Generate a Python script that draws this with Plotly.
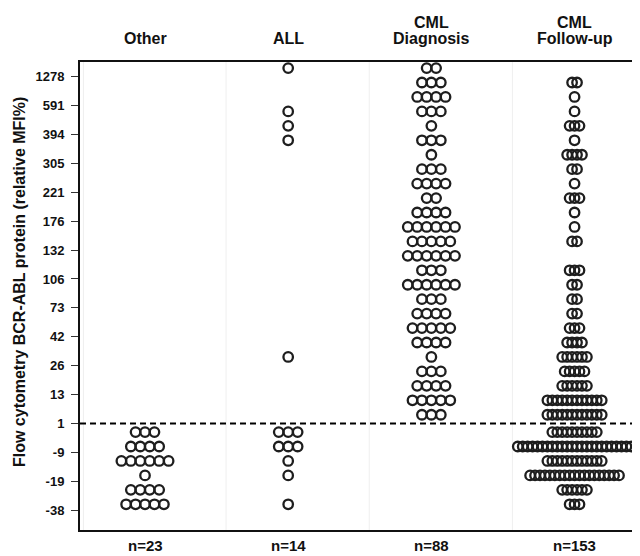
import plotly.graph_objects as go

# ---------------- data ----------------
header_lines = [["Other"], ["ALL"], ["CML", "Diagnosis"], ["CML", "Follow-up"]]
n_labels = ["n=23", "n=14", "n=88", "n=153"]

# y tick labels (top to bottom), one per axis unit from 12 down to -3
tick_labels = ["1278", "591", "394", "305", "221", "176", "132", "106",
               "73", "42", "26", "13", "1", "-9", "-19", "-38"]
tick_index = [12, 11, 10, 9, 8, 7, 6, 5, 4, 3, 2, 1, 0, -1, -2, -3]

# level (in axis units) of each row of dots, top to bottom
row_levels = [12.3, 11.8, 11.3, 10.8, 10.3, 9.8, 9.3, 8.8, 8.3, 7.8, 7.3,
              6.8, 6.3, 5.8, 5.3, 4.8, 4.3, 3.8, 3.3, 2.8, 2.3, 1.8, 1.3,
              0.8, 0.3, -0.3, -0.8, -1.3, -1.8, -2.3, -2.8]

# number of dots on each row, per group
counts_other = [0] * 25 + [3, 4, 6, 1, 4, 5]
counts_all = [1, 0, 0, 1, 1, 1, 0, 0, 0, 0, 0, 0, 0, 0, 0, 0, 0, 0, 0, 0,
              1, 0, 0, 0, 0] + [3, 3, 1, 1, 0, 1]
counts_diag = [2, 3, 4, 3, 1, 3, 1, 3, 4, 2, 4, 6, 5, 6, 3, 6, 3, 4, 5, 4,
               1, 3, 4, 5, 3] + [0, 0, 0, 0, 0, 0]
counts_follow = [0, 2, 1, 1, 3, 1, 4, 2, 1, 3, 1, 1, 2, 0, 3, 2, 2, 2, 3, 4,
                 6, 5, 6, 12, 12] + [10, 24, 12, 19, 6, 3]

group_counts = [counts_other, counts_all, counts_diag, counts_follow]
dot_step = [0.066, 0.066, 0.066, 0.0345]   # horizontal spacing of dots
cutoff_level = 0                              # the "1" line

# ---------------- figure ----------------
FONT = "Arial, Liberation Sans, sans-serif"
DOT = "#1e1e1e"
TXT = "#111111"

fig = go.Figure()
for gi, counts in enumerate(group_counts):
    xs, ys = [], []
    for lvl, n in zip(row_levels, counts):
        for i in range(n):
            xs.append(gi + (i - (n - 1) / 2) * dot_step[gi])
            ys.append(lvl)
    fig.add_trace(go.Scatter(
        x=xs, y=ys, mode="markers", showlegend=False, hoverinfo="skip",
        marker=dict(symbol="circle-open", size=9.5, color=DOT,
                    line=dict(width=2.3, color=DOT)),
    ))

# faint column separators
for xv in [-0.43, 0.566, 1.566, 2.566]:
    fig.add_shape(type="line", xref="x", yref="paper", x0=xv, x1=xv, y0=0, y1=1,
                  line=dict(color="#efefef", width=1), layer="below")

# dashed cutoff line
fig.add_shape(type="line", xref="paper", yref="y", x0=0, x1=1,
              y0=cutoff_level, y1=cutoff_level,
              line=dict(color="black", width=2, dash="6px,4px"))

# group headers and n labels
for gi, (lines, nl) in enumerate(zip(header_lines, n_labels)):
    for li, line in enumerate(reversed(lines)):
        fig.add_annotation(x=gi, y=1, xref="x", yref="paper", text=line,
                           showarrow=False, yanchor="middle", yshift=24 + 16 * li,
                           font=dict(family=FONT, size=16, color=TXT, weight="bold"))
    fig.add_annotation(x=gi, y=0, xref="x", yref="paper", text=nl, showarrow=False,
                       yanchor="middle", yshift=-15,
                       font=dict(family=FONT, size=15, color=TXT, weight="bold"))

fig.add_annotation(x=-0.107, y=0.53, xref="paper", yref="paper", textangle=-90,
                   text="Flow cytometry BCR-ABL protein (relative MFI%)",
                   showarrow=False, xanchor="center", yanchor="middle",
                   font=dict(family=FONT, size=16, color=TXT, weight="bold"))

fig.update_xaxes(range=[-0.454, 3.457], showgrid=False, zeroline=False,
                 showticklabels=False, ticks="", showline=True, mirror=True,
                 linecolor=TXT, linewidth=2)
fig.update_yaxes(range=[-3.69, 12.51], showgrid=False, zeroline=False,
                 tickvals=tick_index, ticktext=tick_labels,
                 ticks="outside", ticklen=7, tickwidth=1, tickcolor="#333",
                 ticklabelstandoff=4,
                 tickfont=dict(family=FONT, size=13, color=TXT, weight="bold"),
                 showline=True, linecolor=TXT, linewidth=2)

# the page body adds an 8px margin, so the figure is 8px smaller on each side
fig.update_layout(width=632, height=548, margin=dict(l=72, r=0, t=54, b=26),
                  paper_bgcolor="white", plot_bgcolor="white")

fig.write_html("out.html")
